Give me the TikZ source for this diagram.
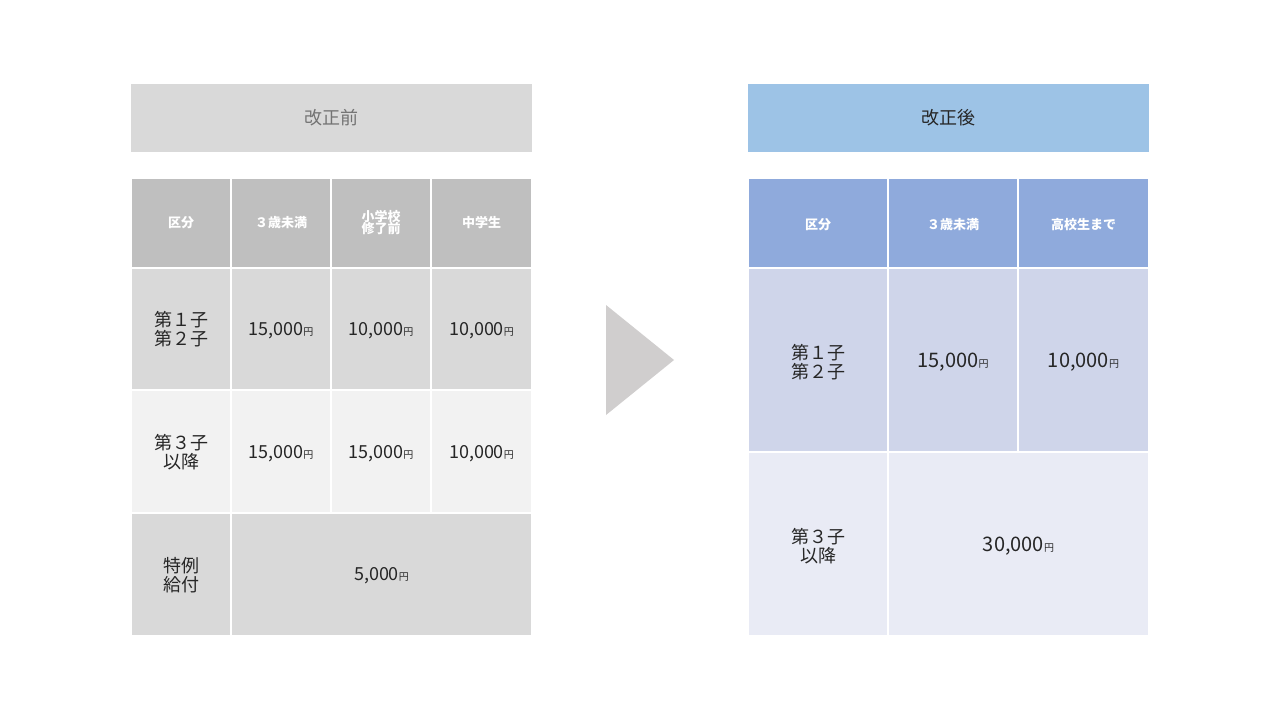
\documentclass[tikz,border=0pt]{standalone}
\usepackage{fontspec}
\setmainfont{Noto Sans CJK JP}
\definecolor{lhead}{HTML}{D9D9D9}
\definecolor{lth}{HTML}{BFBFBF}
\definecolor{lr2}{HTML}{F2F2F2}
\definecolor{rhead}{HTML}{9DC3E6}
\definecolor{rth}{HTML}{8FAADC}
\definecolor{rr1}{HTML}{CFD5EA}
\definecolor{rr2}{HTML}{E9EBF5}
\definecolor{arr}{HTML}{D0CECE}
\definecolor{txt}{HTML}{262626}
\tikzset{cell/.style={draw=white,line width=1.5pt},
 th/.style={text=white,font=\fontsize{13}{15}\selectfont\bfseries,align=center},
 td/.style={text=txt,font=\fontsize{18}{19}\selectfont,align=center},
 yen/.style={font=\fontsize{9}{10}\selectfont}}
\newcommand{\yenv}[1]{#1{\fontsize{10}{10}\selectfont 円}}
\begin{document}
\begin{tikzpicture}[x=1pt,y=-1pt]
\useasboundingbox[fill=white] (0,0) rectangle (1280,720);
% left
\fill[lhead] (131,84) rectangle (532,152);
\node[text=gray!90!black,font=\fontsize{18}{20}\selectfont] (lt) at (331.5,118) {改正前};
\foreach \x/\y/\X/\Y/\c in {131/178/231/268/lth,231/178/331/268/lth,331/178/431/268/lth,431/178/532/268/lth,
 131/268/231/390/lhead,231/268/331/390/lhead,331/268/431/390/lhead,431/268/532/390/lhead,
 131/390/231/513/lr2,231/390/331/513/lr2,331/390/431/513/lr2,431/390/532/513/lr2,
 131/513/231/636/lhead,231/513/532/636/lhead}
 \filldraw[cell,fill=\c] (\x,\y) rectangle (\X,\Y);
\node[th] (l00) at (181,223) {区分};
\node[th] (l01) at (281,223) {３歳未満};
\node[th] (l02) at (381,223) {小学校\\[-3pt]修了前};
\node[th] (l03) at (481.5,223) {中学生};
\node[td] (l10) at (181,329) {第１子\\第２子};
\node[td] (l11) at (281,331) {\yenv{15,000}};
\node[td] (l12) at (381,331) {\yenv{10,000}};
\node[td] (l13) at (481.5,331) {\yenv{10,000}};
\node[td] (l20) at (181,452) {第３子\\以降};
\node[td] (l21) at (281,454) {\yenv{15,000}};
\node[td] (l22) at (381,454) {\yenv{15,000}};
\node[td] (l23) at (481.5,454) {\yenv{10,000}};
\node[td] (l30) at (181,575) {特例\\給付};
\node[td] (l31) at (381.5,576) {\yenv{5,000}};
% arrow
\fill[arr] (606,305) -- (606,415) -- (674,360) -- cycle;
% right
\fill[rhead] (748,84) rectangle (1149,152);
\node[text=txt,font=\fontsize{18}{20}\selectfont] (rt) at (948.5,118) {改正後};
\foreach \x/\y/\X/\Y/\c in {748/178/888/268/rth,888/178/1018/268/rth,1018/178/1149/268/rth,
 748/268/888/452/rr1,888/268/1018/452/rr1,1018/268/1149/452/rr1,
 748/452/888/636/rr2,888/452/1149/636/rr2}
 \filldraw[cell,fill=\c] (\x,\y) rectangle (\X,\Y);
\node[th] (r00) at (818,225) {区分};
\node[th] (r01) at (953,225) {３歳未満};
\node[th] (r02) at (1083.5,225) {高校生まで};
\node[td] (r10) at (818,362) {第１子\\第２子};
\node[td] (r11) at (953,362) {\fontsize{20}{20}\selectfont\yenv{15,000}};
\node[td] (r12) at (1083.5,362) {\fontsize{20}{20}\selectfont\yenv{10,000}};
\node[td] (r20) at (818,546) {第３子\\以降};
\node[td] (r21) at (1018.5,546) {\fontsize{20}{20}\selectfont\yenv{30,000}};
\end{tikzpicture}
\end{document}
